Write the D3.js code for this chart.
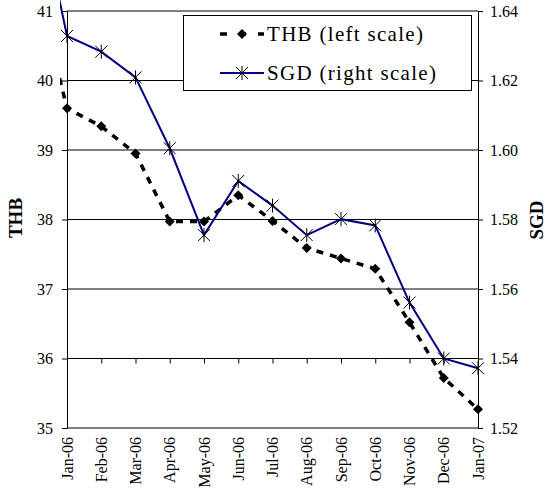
<!DOCTYPE html>
<html>
<head>
<meta charset="utf-8">
<script src="https://cdn.jsdelivr.net/npm/d3@7"></script>
<style>
  body { margin: 0; background: #fff; }
  svg { display: block; font-family: "Liberation Serif", "Times New Roman", serif; }
</style>
</head>
<body>
<svg id="chart" width="547" height="494"></svg>
<script>
// month labels; Dec-05 sits one step left of the axis and is only seen as the clipped line end
var months = ["Dec-05", "Jan-06", "Feb-06", "Mar-06", "Apr-06", "May-06", "Jun-06", "Jul-06",
              "Aug-06", "Sep-06", "Oct-06", "Nov-06", "Dec-06", "Jan-07"];
var thb = [41.6, 39.60, 39.34, 38.95, 37.97, 37.97, 38.35, 37.98, 37.59, 37.44, 37.29, 36.52, 35.72, 35.27];
var sgd = [1.680, 1.6328, 1.6283, 1.6209, 1.6005, 1.5755, 1.5911, 1.5840, 1.5755, 1.5801, 1.5783, 1.5561, 1.5400, 1.5372];
var leftTicks = [35, 36, 37, 38, 39, 40, 41];
var rightTicks = [1.52, 1.54, 1.56, 1.58, 1.60, 1.62, 1.64];
var legendLabels = ["THB (left scale)", "SGD (right scale)"];

var svg = d3.select("#chart");
var plotLeft = 67, plotRight = 478, plotTop = 11, plotBottom = 428;

var x = d3.scaleLinear().domain([1, 13]).range([plotLeft, plotRight]);
var yL = d3.scaleLinear().domain([35, 41]).range([plotBottom, plotTop]);
var yR = d3.scaleLinear().domain([1.52, 1.64]).range([plotBottom, plotTop]);

// gridlines
svg.append("g")
  .selectAll("line")
  .data(leftTicks)
  .enter().append("line")
  .attr("x1", plotLeft).attr("x2", plotRight)
  .attr("y1", function(d) { return yL(d); })
  .attr("y2", function(d) { return yL(d); })
  .attr("stroke", "#000")
  .attr("stroke-width", 1);

// left axis
var gl = svg.append("g")
  .attr("transform", "translate(" + plotLeft + ",0)")
  .call(d3.axisLeft(yL).tickValues(leftTicks).tickSize(5).tickSizeOuter(0).tickPadding(9)
        .tickFormat(d3.format("d")));
gl.selectAll("text").attr("font-size", 16).attr("fill", "#000")
  .attr("font-family", "Liberation Serif, serif");

// right axis
var gr = svg.append("g")
  .attr("transform", "translate(" + plotRight + ",0)")
  .call(d3.axisRight(yR).tickValues(rightTicks).tickSize(5).tickSizeOuter(0).tickPadding(7)
        .tickFormat(d3.format(".2f")));
gr.selectAll("text").attr("font-size", 16).attr("fill", "#000")
  .attr("font-family", "Liberation Serif, serif");

// category axis crossing at 36
var idx = d3.range(1, months.length);
var gx = svg.append("g")
  .attr("transform", "translate(0," + yL(36) + ")")
  .call(d3.axisBottom(x).tickValues(idx).tickSize(5).tickSizeOuter(0).tickFormat(""));
gx.select(".domain").remove();

svg.append("g")
  .selectAll("text")
  .data(idx)
  .enter().append("text")
  .attr("transform", function(d) { return "translate(" + x(d) + "," + (plotBottom + 9) + ") rotate(-90)"; })
  .attr("text-anchor", "end")
  .attr("dy", "0.35em")
  .attr("font-size", 16)
  .text(function(d) { return months[d]; });

// axis titles
svg.append("text")
  .attr("transform", "translate(22,218) rotate(-90)")
  .attr("text-anchor", "middle")
  .attr("font-size", 19).attr("font-weight", "bold")
  .text("THB");
svg.append("text")
  .attr("transform", "translate(543,220) rotate(-90)")
  .attr("text-anchor", "middle")
  .attr("font-size", 19).attr("font-weight", "bold")
  .text("SGD");

// clip so the Dec-05 segment only peeks past the axis
svg.append("clipPath").attr("id", "plot")
  .append("rect").attr("x", 60).attr("y", 0).attr("width", 425).attr("height", 440);

var plot = svg.append("g").attr("clip-path", "url(#plot)");
var all = d3.range(months.length);

var thbLine = d3.line().x(function(i) { return x(i); }).y(function(i) { return yL(thb[i]); });
var sgdLine = d3.line().x(function(i) { return x(i); }).y(function(i) { return yR(sgd[i]); });

plot.append("path")
  .attr("d", thbLine(all))
  .attr("fill", "none").attr("stroke", "#000")
  .attr("stroke-width", 3.5).attr("stroke-dasharray", "7,7");

function diamond(g, cx, cy) {
  g.append("path")
    .attr("d", "M" + cx + "," + (cy - 5) + "L" + (cx + 5) + "," + cy + "L" + cx + "," + (cy + 5) + "L" + (cx - 5) + "," + cy + "Z")
    .attr("fill", "#000");
}
function star(g, cx, cy) {
  g.append("path")
    .attr("d", "M" + (cx - 6) + "," + (cy - 6) + "L" + (cx + 6) + "," + (cy + 6) +
               "M" + (cx - 6) + "," + (cy + 6) + "L" + (cx + 6) + "," + (cy - 6) +
               "M" + cx + "," + (cy - 7) + "L" + cx + "," + (cy + 7))
    .attr("stroke", "#000").attr("stroke-width", 1).attr("fill", "none");
}

idx.forEach(function(i) { diamond(plot, x(i), yL(thb[i])); });

plot.append("path")
  .attr("d", sgdLine(all))
  .attr("fill", "none").attr("stroke", "#000080")
  .attr("stroke-width", 2);

idx.forEach(function(i) { star(plot, x(i), yR(sgd[i])); });

// legend
var lg = svg.append("g");
lg.append("rect")
  .attr("x", 183.5).attr("y", 15.5).attr("width", 288).attr("height", 75)
  .attr("fill", "#fff").attr("stroke", "#000").attr("stroke-width", 1);

lg.append("line")
  .attr("x1", 220).attr("x2", 264).attr("y1", 34).attr("y2", 34)
  .attr("stroke", "#000").attr("stroke-width", 3.5).attr("stroke-dasharray", "7,12");
diamond(lg, 242, 34);
lg.append("line")
  .attr("x1", 220).attr("x2", 264).attr("y1", 73).attr("y2", 73)
  .attr("stroke", "#000080").attr("stroke-width", 2);
star(lg, 242, 73);

lg.selectAll("text.lab")
  .data(legendLabels)
  .enter().append("text")
  .attr("class", "lab")
  .attr("x", 267)
  .attr("y", function(d, i) { return i === 0 ? 34 : 73; })
  .attr("dy", "0.35em")
  .attr("font-size", 21)
  .attr("letter-spacing", 1.3)
  .text(function(d) { return d; });
</script>
</body>
</html>
